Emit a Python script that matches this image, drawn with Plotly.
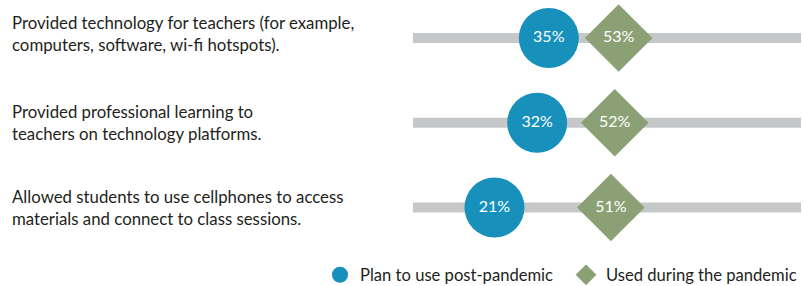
import plotly.graph_objects as go

categories = [
    "Provided technology for teachers (for example,<br>computers, software, wi-fi hotspots).",
    "Provided professional learning to<br>teachers on technology platforms.",
    "Allowed students to use cellphones to access<br>materials and connect to class sessions.",
]
plan_post = [35, 32, 21]
used_during = [53, 52, 51]
bar_full = [100, 100, 100]

BLUE = "#1790BC"
GREEN = "#8BA175"
GRAY = "#C6C7C9"
TEXT = "#231F20"
FONT = "Lato"

rows = [0, 1, 2]

fig = go.Figure()
fig.add_trace(go.Bar(
    x=bar_full, y=rows, orientation="h", width=0.12,
    marker=dict(color=GRAY, line=dict(width=0)), showlegend=False, hoverinfo="skip",
))
fig.add_trace(go.Scatter(
    x=plan_post, y=rows, mode="markers+text", name="Plan to use post-pandemic",
    marker=dict(symbol="circle", size=60, color=BLUE, line=dict(width=0)),
    text=[f"{v}%" for v in plan_post], textposition="middle center",
    textfont=dict(color="white", size=16, family=FONT), cliponaxis=False,
    legend="legend",
))
fig.add_trace(go.Scatter(
    x=used_during, y=rows, mode="markers+text", name="Used during the pandemic",
    marker=dict(symbol="diamond", size=52, color=GREEN, line=dict(width=0)),
    text=[f"{v}%" for v in used_during], textposition="middle center",
    textfont=dict(color="white", size=16, family=FONT), cliponaxis=False,
    legend="legend2",
))

annotations = []
for i, c in enumerate(categories):
    annotations.append(dict(
        x=-1.0387, xref="paper", y=i, yref="y", text=c, showarrow=False,
        xanchor="left", yanchor="middle", align="left",
        font=dict(size=16.8, color=TEXT, family=FONT),
        yshift=4 if i == 0 else 0,
    ))

legend_style = dict(
    orientation="h", xref="container", yref="container", yanchor="middle",
    xanchor="left", font=dict(size=16.6, color=TEXT, family=FONT),
    itemsizing="trace", bgcolor="rgba(0,0,0,0)", borderwidth=0,
)

fig.update_layout(
    width=803, height=286,
    margin=dict(l=413, r=2, t=0, b=46, autoexpand=False),
    paper_bgcolor="white", plot_bgcolor="white",
    barmode="overlay",
    xaxis=dict(range=[0, 100], visible=False, fixedrange=True),
    yaxis=dict(range=[2.383, -0.448], visible=False, fixedrange=True),
    annotations=annotations,
    showlegend=True,
    legend=dict(x=0.3985, y=0.0385, **legend_style),
    legend2=dict(x=0.7049, y=0.0385, **legend_style),
)
fig.write_html("out.html", config={"displayModeBar": False},
               post_script="document.body.style.margin='0';")
